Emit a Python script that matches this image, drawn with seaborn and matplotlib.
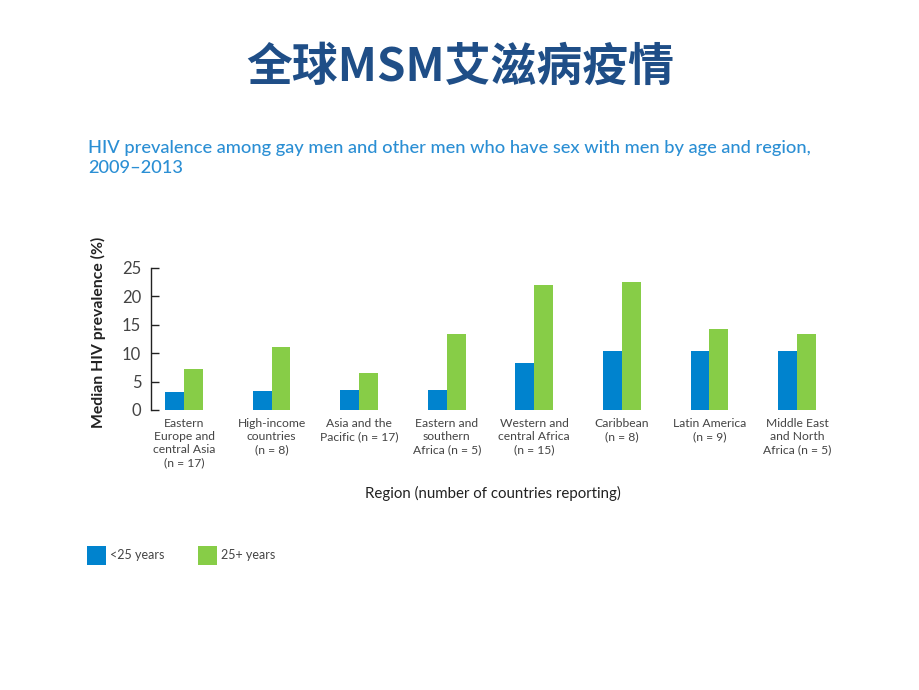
import matplotlib
matplotlib.use("Agg")
import matplotlib.pyplot as plt
import seaborn as sns
import pandas as pd

regions = [
    "Eastern\nEurope and\ncentral Asia\n(n = 17)",
    "High-income\ncountries\n(n = 8)",
    "Asia and the\nPacific (n = 17)",
    "Eastern and\nsouthern\nAfrica (n = 5)",
    "Western and\ncentral Africa\n(n = 15)",
    "Caribbean\n(n = 8)",
    "Latin America\n(n = 9)",
    "Middle East\nand North\nAfrica (n = 5)",
]
under25 = [3.2, 3.3, 3.5, 3.5, 8.3, 10.3, 10.4, 10.4]
over25 = [7.2, 11.1, 6.5, 13.4, 22.0, 22.6, 14.2, 13.4]
age_groups = ["<25 years", "25+ years"]
yticks = [0, 5, 10, 15, 20, 25]

df = pd.DataFrame({
    "region": regions * 2,
    "age": [age_groups[0]] * len(regions) + [age_groups[1]] * len(regions),
    "value": under25 + over25,
})

sns.set_theme(style="white")
plt.rcParams["font.family"] = ["Lato", "DejaVu Sans"]

fig = plt.figure(figsize=(9.2, 6.9), dpi=100)
ax = fig.add_axes([151 / 920, 1 - 410 / 690, (832 - 151) / 920, 142 / 690])

palette = {age_groups[0]: "#0083CE", age_groups[1]: "#87CD47"}
sns.barplot(data=df, x="region", y="value", hue="age", palette=palette,
            width=0.43, saturation=1, ax=ax, order=regions, hue_order=age_groups,
            linewidth=0, edgecolor="none")

ax.set_xlim(-0.377, 7.4)
ax.set_ylim(0, 25)
ax.set_yticks(yticks)
ax.tick_params(axis="y", direction="in", length=6, width=1, color="#222222",
               labelsize=12, labelcolor="#444444", pad=7, left=True)
ax.tick_params(axis="x", length=0, labelsize=8.7, labelcolor="#444444", pad=6)
for lab in ax.get_xticklabels():
    lab.set_linespacing(1.22)
    lab.set_verticalalignment("top")
for s in ["top", "right", "bottom"]:
    ax.spines[s].set_visible(False)
ax.spines["left"].set_color("#222222")
ax.spines["left"].set_linewidth(1)
ax.set_xlabel("")
ax.set_ylabel("Median HIV prevalence (%)", fontsize=11.3, fontweight="bold",
              color="#222222")
ax.yaxis.set_label_coords(-0.066, 0.55)

fig.text(493 / 920, 1 - 493 / 690, "Region (number of countries reporting)",
         ha="center", va="center", fontsize=10.8, color="#222222")

fig.text(460 / 920, 1 - 68 / 690, "全球MSM艾滋病疫情", ha="center", va="center",
         fontsize=33, fontweight="bold", color="#1F4E87",
         family=["Noto Sans CJK SC", "DejaVu Sans"])

fig.text(88 / 920, 1 - 158 / 690,
         "HIV prevalence among gay men and other men who have sex with men by age and region,\n2009\u20132013",
         ha="left", va="center", fontsize=13.15, color="#2B8FD4", linespacing=1.3,
         fontweight="medium")

sns.move_legend(ax, "upper left", bbox_to_anchor=(87 / 920, 1 - 546 / 690),
                bbox_transform=fig.transFigure, ncol=2, frameon=False, title=None,
                fontsize=9, handlelength=1.5, handleheight=1.9, handletextpad=0.35,
                columnspacing=2.7, borderpad=0, borderaxespad=0,
                labelcolor="#444444")

fig.savefig("out.png", dpi=100)
